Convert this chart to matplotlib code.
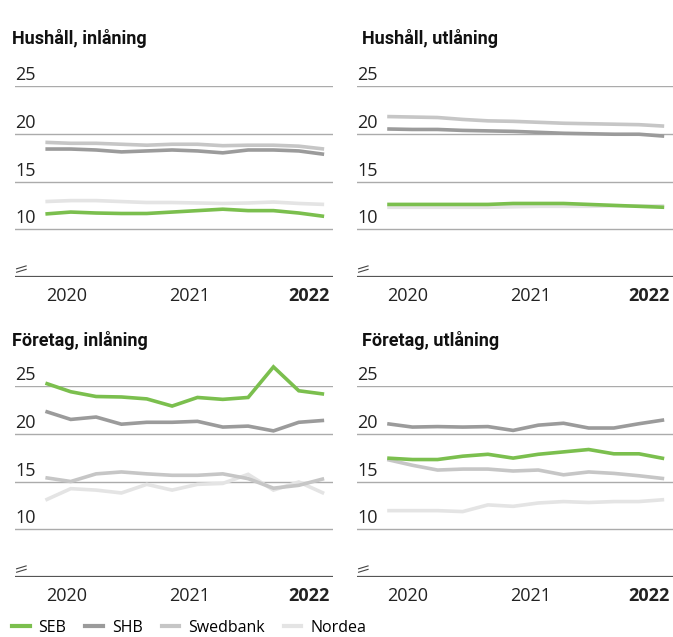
import matplotlib.pyplot as plt
import numpy as np

# quarterly observations, 12 points per series
quarters = np.arange(12)
year_labels = ["2020", "2021", "2022"]
year_pos = [0.83, 5.7, 11.2]

banks = ["SEB", "SHB", "Swedbank", "Nordea"]
colors = ["#7bbf4e", "#9b9b9b", "#c6c6c6", "#e4e4e4"]

hh_in = {
    "SEB": [11.6, 11.8, 11.7, 11.65, 11.65, 11.8, 11.95, 12.1, 11.95, 11.95, 11.7, 11.35],
    "SHB": [18.4, 18.4, 18.3, 18.1, 18.2, 18.3, 18.2, 18.0, 18.3, 18.3, 18.2, 17.85],
    "Swedbank": [19.1, 19.0, 19.0, 18.9, 18.8, 18.9, 18.9, 18.75, 18.8, 18.8, 18.7, 18.4],
    "Nordea": [12.9, 13.0, 13.0, 12.9, 12.8, 12.8, 12.75, 12.7, 12.75, 12.85, 12.7, 12.6],
}
hh_ut = {
    "SEB": [12.6, 12.6, 12.6, 12.6, 12.6, 12.7, 12.7, 12.7, 12.6, 12.5, 12.4, 12.3],
    "SHB": [20.5, 20.45, 20.45, 20.35, 20.3, 20.25, 20.15, 20.05, 20.0, 19.95, 19.95, 19.75],
    "Swedbank": [21.8, 21.75, 21.7, 21.5, 21.35, 21.3, 21.2, 21.1, 21.05, 21.0, 20.95, 20.8],
    "Nordea": [12.3, 12.3, 12.3, 12.3, 12.3, 12.35, 12.4, 12.4, 12.4, 12.45, 12.45, 12.45],
}
ft_in = {
    "SEB": [25.3, 24.4, 23.9, 23.85, 23.65, 22.9, 23.8, 23.6, 23.8, 27.0, 24.5, 24.15],
    "SHB": [22.35, 21.5, 21.75, 21.0, 21.2, 21.2, 21.3, 20.7, 20.8, 20.3, 21.2, 21.4],
    "Swedbank": [15.4, 15.0, 15.8, 16.0, 15.8, 15.65, 15.65, 15.8, 15.3, 14.3, 14.6, 15.3],
    "Nordea": [13.05, 14.25, 14.1, 13.8, 14.7, 14.1, 14.7, 14.8, 15.75, 14.1, 14.95, 13.75],
}
ft_ut = {
    "SEB": [17.45, 17.3, 17.3, 17.65, 17.85, 17.45, 17.85, 18.1, 18.35, 17.9, 17.9, 17.4],
    "SHB": [21.05, 20.7, 20.75, 20.7, 20.75, 20.35, 20.9, 21.1, 20.6, 20.6, 21.05, 21.45],
    "Swedbank": [17.3, 16.7, 16.2, 16.3, 16.3, 16.1, 16.2, 15.7, 16.0, 15.85, 15.6, 15.3],
    "Nordea": [11.95, 11.95, 11.95, 11.85, 12.55, 12.4, 12.75, 12.9, 12.8, 12.9, 12.9, 13.1],
}

panels = [
    ("Hushåll, inlåning", hh_in),
    ("Hushåll, utlåning", hh_ut),
    ("Företag, inlåning", ft_in),
    ("Företag, utlåning", ft_ut),
]
yticks = [10, 15, 20, 25]

W, H = 673, 637
fig = plt.figure(figsize=(W / 100, H / 100), dpi=100)
plt.rcParams["font.family"] = ["Open Sans", "DejaVu Sans"]

# axes boxes in pixels: left, right, top (value 25), bottom (value 5)
boxes = [(15, 333, 86, 277), (357, 673, 86, 277), (15, 333, 386, 577), (357, 673, 386, 577)]
title_y = [38, 38, 340, 340]
title_x = [12, 362, 12, 362]

for (title, data), (l, r, t, b), tx, ty in zip(panels, boxes, title_x, title_y):
    ax = fig.add_axes([l / W, 1 - b / H, (r - l) / W, (b - t) / H])
    ax.set_xlim(-1.2, 11.35)
    ax.set_ylim(5, 25)
    for s in ax.spines.values():
        s.set_visible(False)
    ax.set_xticks([])
    ax.set_yticks([])
    for v in yticks:
        ax.axhline(v, color="#ababab", lw=1.0, zorder=1)
        ax.text(0, v + 0.2, str(v), transform=ax.get_yaxis_transform(),
                ha="left", va="bottom", fontsize=13, color="#222222")
    ax.axhline(5, color="#555555", lw=1.6, zorder=1)
    # axis break mark
    for dy in (0.0, 0.018):
        ax.plot([0.005, 0.035], [0.025 + dy, 0.04 + dy], transform=ax.transAxes,
                color="#444444", lw=0.8, clip_on=False)
    for bank, c in zip(reversed(banks), reversed(colors)):
        ax.plot(quarters, data[bank], color=c, lw=2.6, solid_capstyle="butt",
                solid_joinstyle="miter", clip_on=False, zorder=3)
    for lab, xp in zip(year_labels, year_pos):
        bold = lab == "2022"
        ax.text(xp, 3.05, lab, ha="right" if bold else "center", va="center",
                fontsize=13, fontweight="bold" if bold else "normal", color="#222222")
    fig.text(tx / W, 1 - ty / H, title, ha="left", va="center", fontsize=13,
             fontweight="bold", family=["Roboto", "DejaVu Sans"], color="#111111")

handles = [plt.Line2D([], [], color=c, lw=3.0) for c in colors]
fig.legend(handles, banks, loc="center left", bbox_to_anchor=(12 / W, 1 - 628 / H),
           ncol=4, frameon=False, handlelength=1.1, handletextpad=0.55,
           columnspacing=1.2, fontsize=11.5, borderaxespad=0, borderpad=0)

fig.savefig("out.png", dpi=100, facecolor="white")
